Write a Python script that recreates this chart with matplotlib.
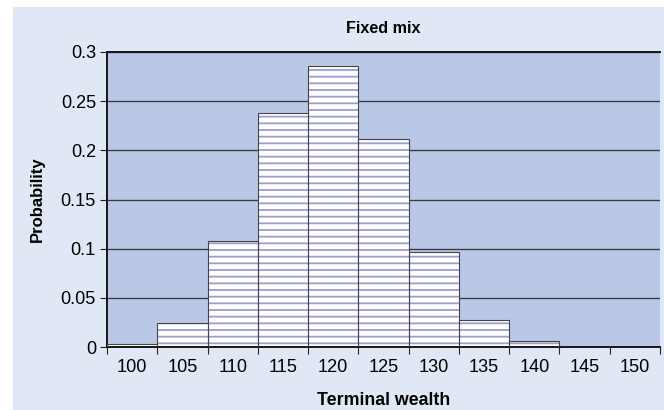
import numpy as np
import matplotlib.pyplot as plt
from matplotlib.patches import Rectangle

# data
wealth = [100, 105, 110, 115, 120, 125, 130, 135, 140, 145, 150]
prob = [0.003, 0.024, 0.108, 0.238, 0.286, 0.212, 0.097, 0.027, 0.006, 0.0, 0.0]
y_ticks = [0, 0.05, 0.1, 0.15, 0.2, 0.25, 0.3]
y_labels = ["0", "0.05", "0.1", "0.15", "0.2", "0.25", "0.3"]

DPI = 80
W, H = 664, 410

plt.rcParams['font.family'] = ['Liberation Sans', 'DejaVu Sans']
plt.rcParams['hatch.linewidth'] = 1.6

fig = plt.figure(figsize=(W / DPI, H / DPI), dpi=DPI, facecolor='white')
fig.patches.append(Rectangle((13 / W, 0), 1 - 13 / W, 1 - 7 / H, transform=fig.transFigure,
                             facecolor='#e0e8f5', edgecolor='none', zorder=-10))

ax = fig.add_axes([107 / W, (H - 347) / H, (660 - 107) / W, (347 - 52) / H])
ax.set_facecolor('#b8c8e6')

x = np.arange(len(wealth))
# hatched white fill, then dark outline on top
ax.bar(x, prob, width=1.0, color='white', edgecolor='#9c9cd2', hatch='--', linewidth=0, zorder=2)
ax.bar(x, prob, width=1.0, fill=False, edgecolor='#454545', linewidth=1.0, zorder=3)

ax.set_xlim(-0.5, len(wealth) - 0.5)
ax.set_ylim(0, 0.3)
ax.set_axisbelow(True)
ax.yaxis.grid(True, color='#3a3a3a', linewidth=1.2)

ax.set_yticks(y_ticks)
ax.set_yticklabels(y_labels)
ax.set_xticks(np.arange(-0.5, len(wealth)), labels=[''] * (len(wealth) + 1))
ax.set_xticks(x, labels=[str(w) for w in wealth], minor=True)
ax.tick_params(axis='x', which='minor', length=0, labelsize=16.3, pad=11)
ax.tick_params(axis='x', which='major', length=6, width=1.0, color='#222222')
ax.tick_params(axis='y', length=6, width=1.0, color='#222222', labelsize=16.3, pad=4)

for s in ['left', 'top', 'bottom']:
    ax.spines[s].set_color('#1a1a1a')
    ax.spines[s].set_linewidth(1.8)
ax.spines['right'].set_visible(False)

ax.set_title('Fixed mix', fontsize=14.5, fontweight='bold', pad=17)
ax.set_xlabel('Terminal wealth', fontsize=16, fontweight='bold', labelpad=14)
ax.set_ylabel('Probability', fontsize=15, fontweight='bold', labelpad=14)

fig.savefig('out.png', dpi=DPI, facecolor=fig.get_facecolor())
